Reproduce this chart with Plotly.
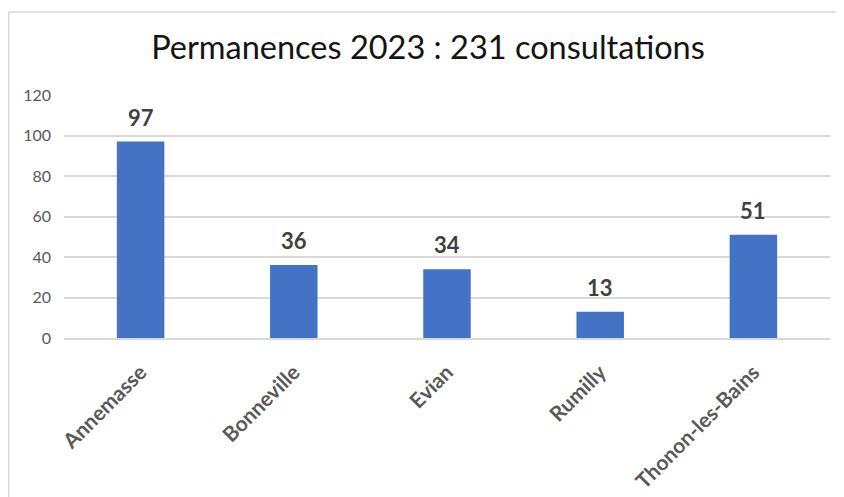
import plotly.graph_objects as go

categories = ["Annemasse", "Bonneville", "Evian", "Rumilly", "Thonon-les-Bains"]
values = [97, 36, 34, 13, 51]
y_ticks = [0, 20, 40, 60, 80, 100, 120]
title_text = "Permanences 2023 : 231 consultations"

FONT = "Lato"

# page body has an 8px offset, so the figure is sized to fit the window
W, H = 836, 489
L, R, T, B = 56, 14, 87, 159
PW, PH = W - L - R, H - T - B

fig = go.Figure()
fig.add_trace(go.Bar(
    x=categories, y=values,
    marker=dict(color="#4472C4", line=dict(width=0)),
    hoverinfo="x+y",
))

for c, v in zip(categories, values):
    fig.add_annotation(
        x=c, y=v, text=f"<b>{v}</b>", showarrow=False,
        yanchor="bottom", yshift=9,
        font=dict(family=FONT, size=22, color="#404040"),
    )

# chart frame (left and top edges visible)
fx = (0.75 - L) / PW
fy = (H - B - 4) / PH
fig.add_shape(type="line", xref="paper", yref="paper",
              x0=fx, x1=1.1, y0=fy, y1=fy,
              line=dict(color="#d9d9d9", width=1.5))
fig.add_shape(type="line", xref="paper", yref="paper",
              x0=fx, x1=fx, y0=fy, y1=-0.8,
              line=dict(color="#d9d9d9", width=1.5))

fig.update_layout(
    width=W, height=H,
    margin=dict(l=L, r=R, t=T, b=B, autoexpand=False),
    paper_bgcolor="white", plot_bgcolor="white",
    bargap=0.69,
    showlegend=False,
    title=dict(text=title_text, x=(420 - L) / PW, xanchor="center", xref="paper",
               y=1 - 40 / H, yanchor="middle",
               font=dict(family=FONT, size=32.5, color="#141414")),
    xaxis=dict(
        type="category", showgrid=False, showline=True, linecolor="#d9d9d9", linewidth=1.5,
        tickangle=-45, ticks="", ticklabelstandoff=12,
        tickfont=dict(family=FONT, size=21, color="#595959", weight="bold"),
    ),
    yaxis=dict(
        range=[0, 120], tickvals=y_ticks, showgrid=True, gridcolor="#d9d9d9", gridwidth=1.5,
        zeroline=False, showline=False, ticks="", ticklabelstandoff=12,
        tickfont=dict(family=FONT, size=16, color="#595959"),
    ),
)

fig.write_html("out.html")
